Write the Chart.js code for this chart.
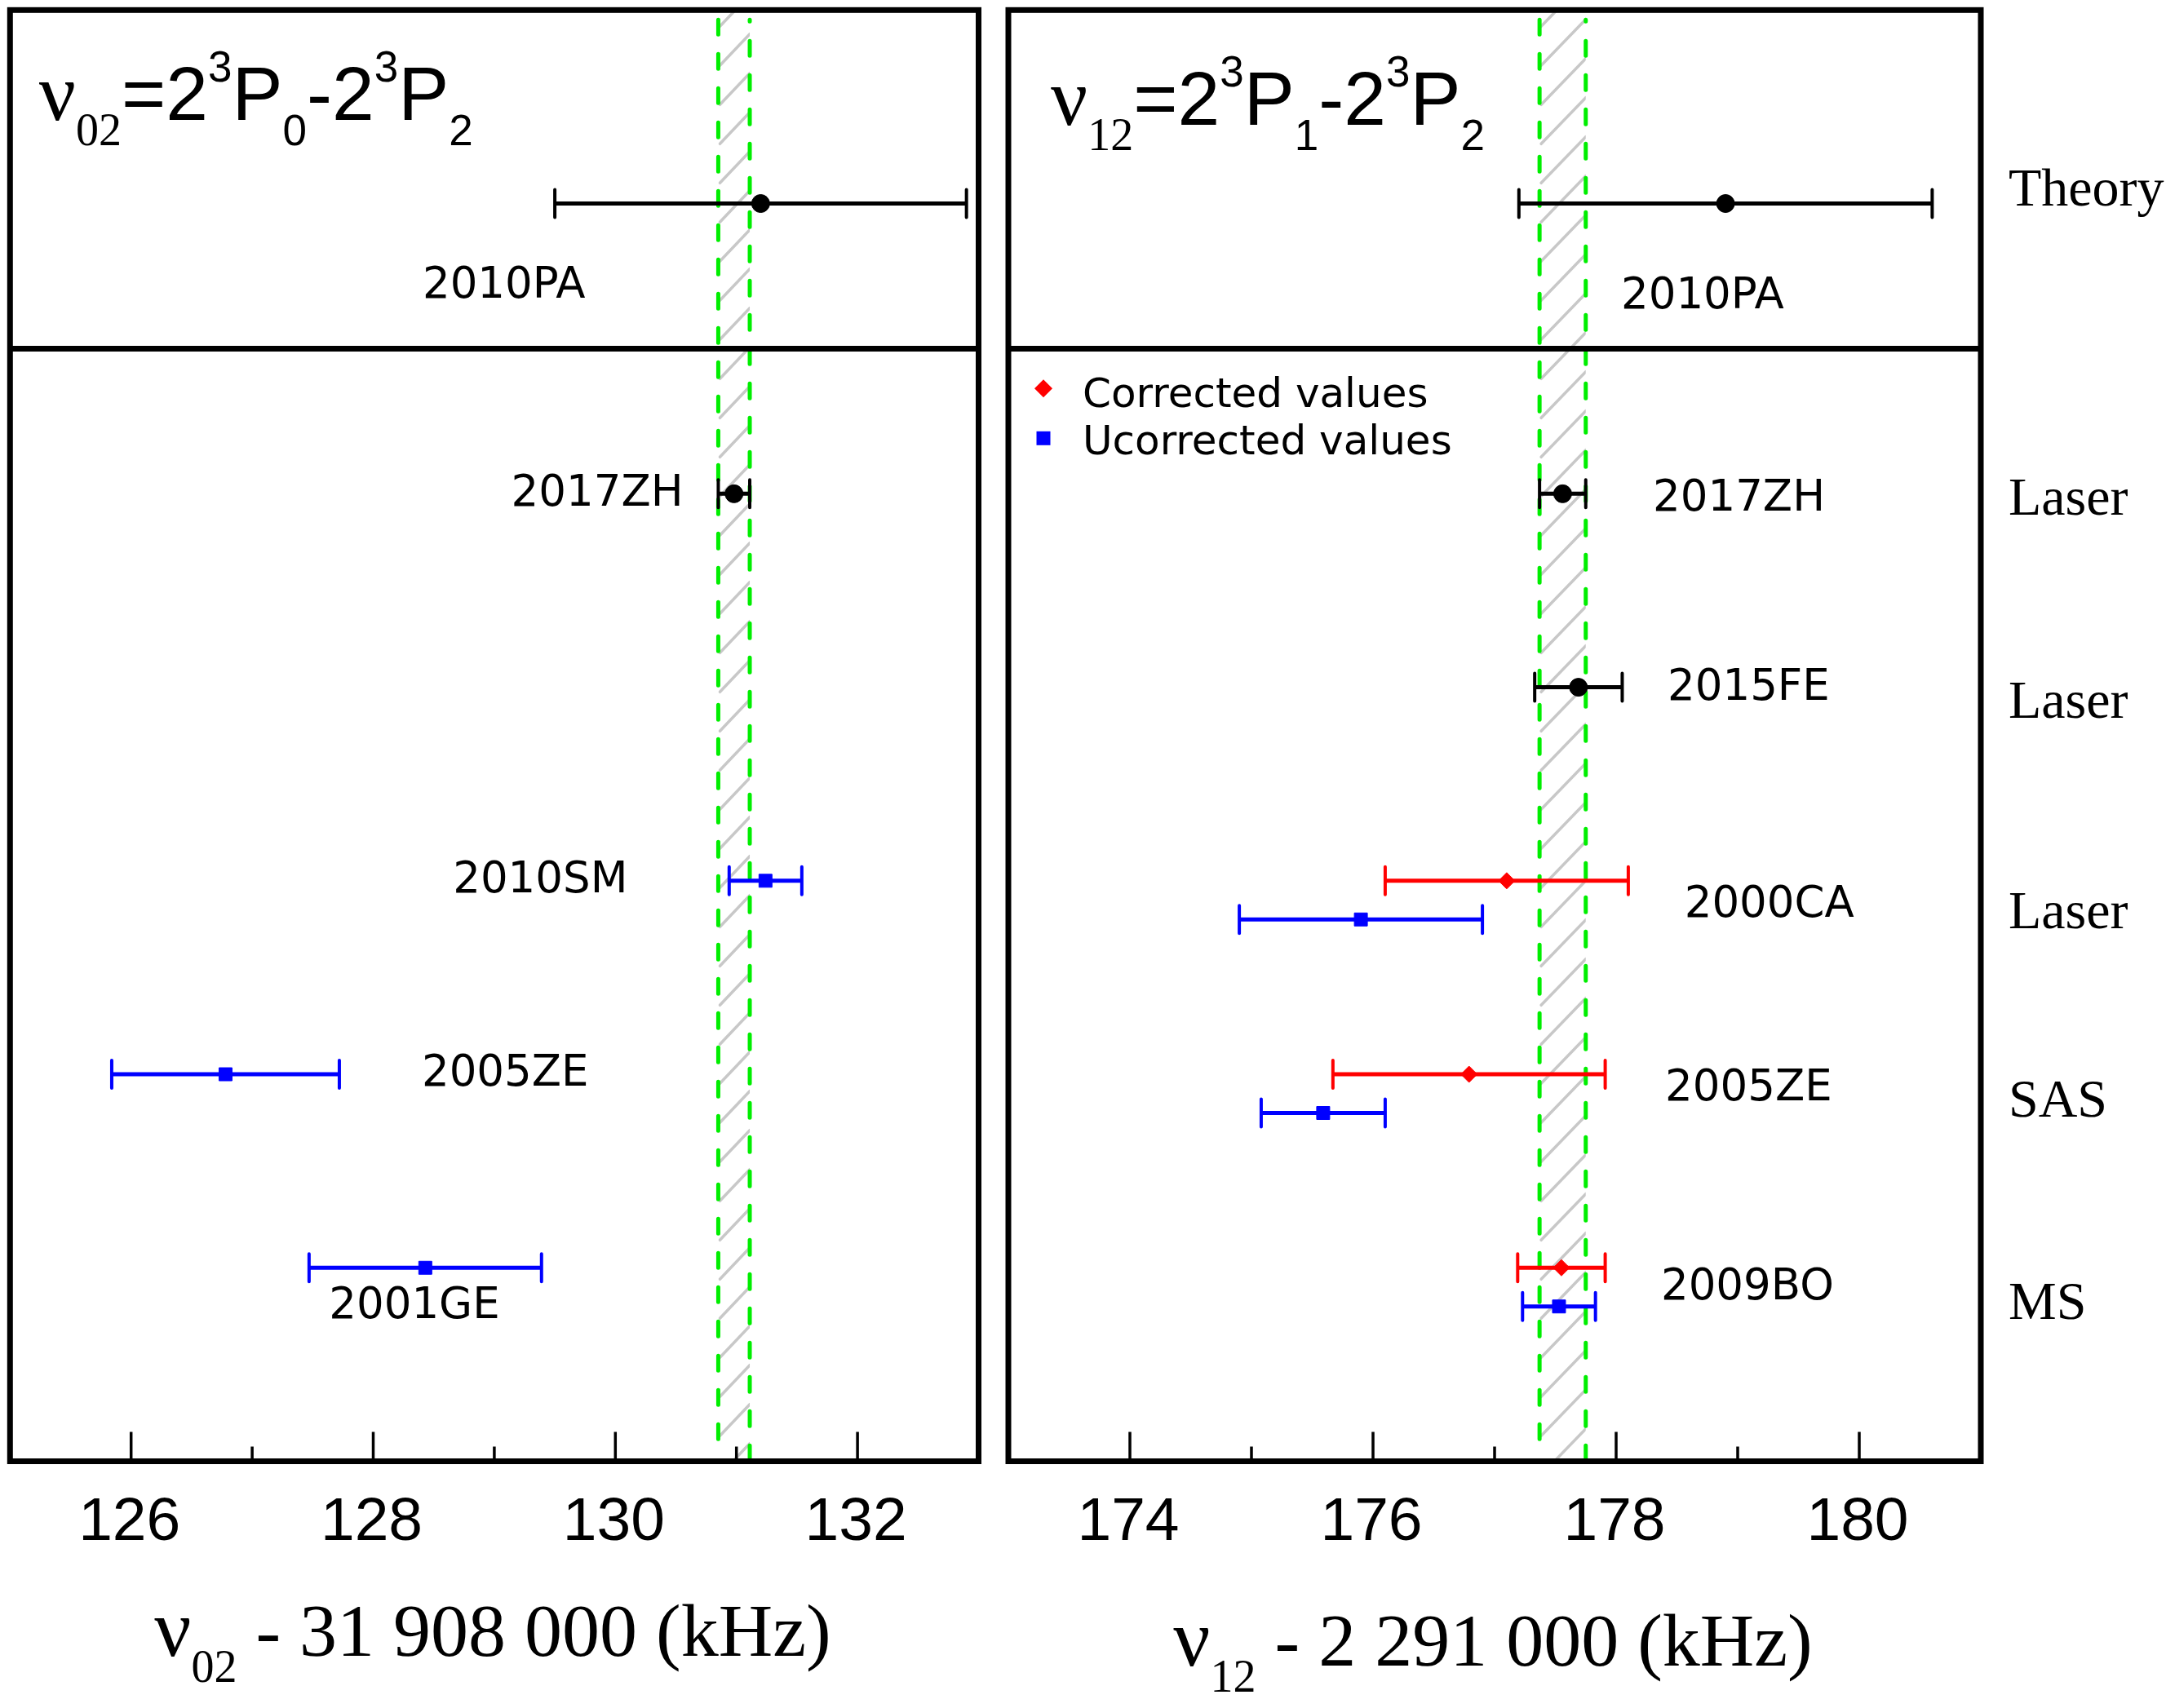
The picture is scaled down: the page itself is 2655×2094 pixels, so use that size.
<!DOCTYPE html>
<html>
<head>
<meta charset="utf-8">
<title>nu02 / nu12 comparison</title>
<script src="https://cdn.jsdelivr.net/npm/chart.js@4.4.1/dist/chart.umd.min.js"></script>
<style>
  html, body { margin: 0; padding: 0; background: #fff; }
  body { width: 2655px; height: 2094px; position: relative; overflow: hidden; }
  canvas { position: absolute; top: 0; }
  #left { left: 0; }
  #right { left: 1218px; }
</style>
</head>
<body>
<canvas id="left" width="1218" height="2094"></canvas>
<canvas id="right" width="1437" height="2094"></canvas>
<script>
// nu02 - 31 908 000 kHz
var leftNames = ['2010PA', '2017ZH', '2010SM', '2005ZE', '2001GE'];
var leftRefX = [131.2, 130.98];
var leftRefY = [6.5, 5];
var leftRefErr = [1.7, 0.13];
var leftUncX = [131.24, 126.78, 128.43];
var leftUncY = [3, 2, 1];
var leftUncErr = [0.30, 0.94, 0.96];
var leftBand = [130.85, 131.11];
var leftTicks = [126, 128, 130, 132];
var leftMinor = [127, 129, 131];

// nu12 - 2 291 000 kHz
var rightNames = ['2010PA', '2017ZH', '2015FE', '2000CA', '2005ZE', '2009BO'];
var rightRefX = [178.9, 177.56, 177.69];
var rightRefY = [6.5, 5, 4];
var rightRefErr = [1.7, 0.19, 0.36];
var rightCorX = [177.1, 176.79, 177.55];
var rightCorY = [3, 2, 1];
var rightCorErr = [1.0, 1.12, 0.36];
var rightUncX = [175.9, 175.59, 177.53];
var rightUncY = [2.8, 1.8, 0.8];
var rightUncErr = [1.0, 0.51, 0.30];
var rightBand = [177.37, 177.75];
var rightTicks = [174, 176, 178, 180];
var rightMinor = [175, 177, 179];
var methods = ['Theory', 'Laser', 'Laser', 'Laser', 'SAS', 'MS'];
var legendLabels = ['Corrected values', 'Ucorrected values'];

// where the text labels sit (data units)
var leftNameX = [129.08, 129.85, 129.38, 129.09, 128.34];
var leftNameY = [6.015, 4.94, 2.94, 1.94, 0.74];
var rightNameX = [178.71, 179.01, 179.09, 179.26, 179.09, 179.08];
var rightNameY = [5.96, 4.915, 3.935, 2.815, 1.865, 0.836];
var methodY = [6.49, 4.891, 3.844, 2.756, 1.781, 0.737];

var SERIF = '"Liberation Serif", "Times New Roman", serif';
var SANS = '"Liberation Sans", Arial, sans-serif';
var DEJA = '"DejaVu Sans", sans-serif';

function pts(xs, ys) {
  return xs.map(function (x, i) { return { x: x, y: ys[i] }; });
}

function richText(ctx, parts, x, y, center) {
  var w = 0;
  parts.forEach(function (p) { ctx.font = p.f; w += ctx.measureText(p.t).width; });
  if (center) x -= w / 2;
  ctx.textAlign = 'left';
  ctx.textBaseline = 'alphabetic';
  parts.forEach(function (p) {
    ctx.font = p.f;
    ctx.fillText(p.t, x, y + (p.dy || 0));
    x += ctx.measureText(p.t).width;
  });
}

function panelTitle(a, b) {
  var big = '93px ' + SANS, small = '53px ' + SANS;
  return [
    { t: '\u03bd', f: '100px ' + SERIF },
    { t: a + b, f: '56px ' + SERIF, dy: 31 },
    { t: '=2', f: big },
    { t: '3', f: small, dy: -47 },
    { t: 'P', f: big },
    { t: a, f: small, dy: 31 },
    { t: '-2', f: big },
    { t: '3', f: small, dy: -47 },
    { t: 'P', f: big },
    { t: b, f: small, dy: 31 }
  ];
}

var panelPlugin = {
  id: 'panel',
  beforeDatasetsDraw: function (chart, args, o) {
    var ctx = chart.ctx, a = chart.chartArea, xs = chart.scales.x, ys = chart.scales.y;
    var x0 = xs.getPixelForValue(o.band[0]), x1 = xs.getPixelForValue(o.band[1]);
    var bw = x1 - x0;

    // hatched band
    ctx.save();
    ctx.beginPath();
    ctx.rect(x0, a.top, bw, a.bottom - a.top);
    ctx.clip();
    ctx.strokeStyle = '#c8c8c8';
    ctx.lineWidth = 3.5;
    ctx.lineCap = 'round';
    ctx.beginPath();
    for (var y = a.top + 20; y < a.bottom + bw + 48; y += 48) {
      ctx.moveTo(x0 + 2, y);
      ctx.lineTo(x1, y - bw);
    }
    ctx.stroke();
    ctx.restore();

    // green dashed edges
    ctx.save();
    ctx.strokeStyle = '#00ee00';
    ctx.lineWidth = 5;
    ctx.lineCap = 'round';
    ctx.setLineDash([18, 24]);
    [x0, x1].forEach(function (x, k) {
      ctx.lineDashOffset = k * 16;
      ctx.beginPath();
      ctx.moveTo(x, a.top + 12);
      ctx.lineTo(x, a.bottom - 4);
      ctx.stroke();
    });
    ctx.restore();

    // error bars
    chart.data.datasets.forEach(function (ds) {
      ctx.save();
      ctx.strokeStyle = ds.pointBackgroundColor;
      ds.data.forEach(function (p, j) {
        var e = ds.xErr[j], py = ys.getPixelForValue(p.y);
        var l = xs.getPixelForValue(p.x - e), r = xs.getPixelForValue(p.x + e);
        ctx.lineWidth = 5;
        ctx.lineCap = 'butt';
        ctx.beginPath();
        ctx.moveTo(l, py);
        ctx.lineTo(r, py);
        ctx.stroke();
        ctx.lineWidth = 4;
        ctx.lineCap = 'round';
        ctx.beginPath();
        ctx.moveTo(l, py - 17); ctx.lineTo(l, py + 17);
        ctx.moveTo(r, py - 17); ctx.lineTo(r, py + 17);
        ctx.stroke();
      });
      ctx.restore();
    });
  },
  afterDraw: function (chart, args, o) {
    var ctx = chart.ctx, a = chart.chartArea, xs = chart.scales.x, ys = chart.scales.y;
    ctx.save();
    ctx.fillStyle = '#000';
    ctx.strokeStyle = '#000';

    // frame and divider between theory and experiment
    ctx.lineWidth = 7;
    ctx.strokeRect(a.left, a.top, a.right - a.left, a.bottom - a.top);
    var dy = ys.getPixelForValue(5.75);
    ctx.beginPath();
    ctx.moveTo(a.left, dy);
    ctx.lineTo(a.right, dy);
    ctx.stroke();

    // ticks on the bottom axis
    ctx.lineWidth = 3.5;
    ctx.beginPath();
    o.ticks.forEach(function (v) {
      var x = xs.getPixelForValue(v);
      ctx.moveTo(x, a.bottom); ctx.lineTo(x, a.bottom - 36);
    });
    o.minor.forEach(function (v) {
      var x = xs.getPixelForValue(v);
      ctx.moveTo(x, a.bottom); ctx.lineTo(x, a.bottom - 18);
    });
    ctx.stroke();
    ctx.font = '75px ' + SANS;
    ctx.textAlign = 'center';
    ctx.textBaseline = 'alphabetic';
    o.ticks.forEach(function (v) {
      ctx.fillText(String(v), xs.getPixelForValue(v) - 2, a.bottom + 96.5);
    });

    // axis title
    richText(ctx, [
      { t: '\u03bd', f: '100px ' + SERIF },
      { t: o.sub, f: '56px ' + SERIF, dy: 32 },
      { t: ' - ' + o.offset + ' (kHz)', f: '92px ' + SERIF }
    ], (a.left + a.right) / 2 - 2, a.bottom + o.axisTitleY, true);

    // transition in the top panel
    richText(ctx, o.title, a.left + o.titleX, a.top + o.titleY, false);

    // measurement labels
    ctx.font = '53px ' + DEJA;
    ctx.textAlign = 'center';
    ctx.textBaseline = 'alphabetic';
    o.names.forEach(function (n, i) {
      ctx.fillText(n, xs.getPixelForValue(o.nameX[i]), ys.getPixelForValue(o.nameY[i]));
    });

    if (o.methods) {
      ctx.font = '66px ' + SERIF;
      ctx.textAlign = 'left';
      o.methods.forEach(function (m, i) {
        ctx.fillText(m, a.right + 34, ys.getPixelForValue(methodY[i]));
      });
    }

    if (o.legend) {
      var mx = a.left + 43, ly = a.top + 464;
      ctx.fillStyle = '#ff0000';
      ctx.beginPath();
      ctx.moveTo(mx - 11, ly); ctx.lineTo(mx, ly - 11); ctx.lineTo(mx + 11, ly); ctx.lineTo(mx, ly + 11);
      ctx.closePath();
      ctx.fill();
      ctx.fillStyle = '#0000ff';
      ctx.fillRect(mx - 8.5, ly + 61 - 8.5, 17, 17);
      ctx.fillStyle = '#000';
      ctx.font = '50px ' + DEJA;
      ctx.textAlign = 'left';
      ctx.fillText(legendLabels[0], a.left + 91, a.top + 486.5);
      ctx.fillText(legendLabels[1], a.left + 91, a.top + 544.5);
    }
    ctx.restore();
  }
};

function dataset(xs, ys, err, color, style, radius) {
  return {
    data: pts(xs, ys),
    xErr: err,
    pointStyle: style,
    pointRadius: radius,
    pointBackgroundColor: color,
    pointBorderColor: color,
    pointBorderWidth: 1,
    showLine: false
  };
}

function makePanel(id, pad, xmin, xmax, datasets, opts) {
  return new Chart(document.getElementById(id), {
    type: 'scatter',
    data: { datasets: datasets },
    options: {
      responsive: false,
      animation: false,
      devicePixelRatio: 1,
      layout: { padding: pad },
      scales: {
        x: { type: 'linear', min: xmin, max: xmax, display: false },
        y: { type: 'linear', min: 0, max: 7.5, display: false }
      },
      plugins: {
        legend: { display: false },
        tooltip: { enabled: false },
        panel: opts
      }
    },
    plugins: [panelPlugin]
  });
}

makePanel('left', { left: 7.5, top: 7.5, right: 18.5, bottom: 302.5 }, 125, 133, [
  dataset(leftRefX, leftRefY, leftRefErr, '#000000', 'circle', 11),
  dataset(leftUncX, leftUncY, leftUncErr, '#0000ff', 'rect', 11.3)
], {
  band: leftBand, ticks: leftTicks, minor: leftMinor,
  sub: '02', offset: '31 908 000', axisTitleY: 238.5,
  title: panelTitle('0', '2'), titleX: 35.5, titleY: 134.5,
  names: leftNames, nameX: leftNameX, nameY: leftNameY
});

makePanel('right', { left: 18, top: 7.5, right: 227, bottom: 302.5 }, 173, 181, [
  dataset(rightRefX, rightRefY, rightRefErr, '#000000', 'circle', 11),
  dataset(rightCorX, rightCorY, rightCorErr, '#ff0000', 'rectRot', 10),
  dataset(rightUncX, rightUncY, rightUncErr, '#0000ff', 'rect', 11.3)
], {
  band: rightBand, ticks: rightTicks, minor: rightMinor,
  sub: '12', offset: '2 291 000', axisTitleY: 250.5,
  title: panelTitle('1', '2'), titleX: 52, titleY: 140.5,
  names: rightNames, nameX: rightNameX, nameY: rightNameY,
  methods: methods, legend: true
});
</script>
</body>
</html>
